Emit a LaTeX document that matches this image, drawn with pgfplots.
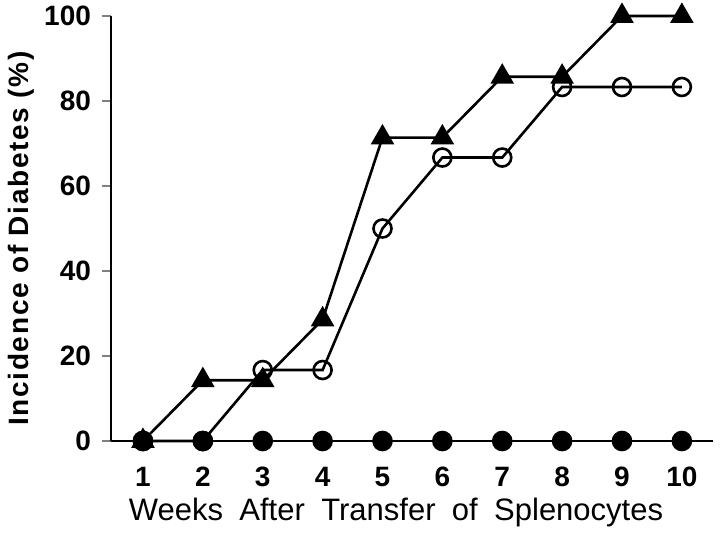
\documentclass[border=0pt]{standalone}
\usepackage{fontspec}
\setmainfont{Liberation Sans}
\newfontfamily\ylabfont[LetterSpace=6]{Liberation Sans}
\usepackage{pgfplots}
\pgfplotsset{compat=1.18}
\begin{document}
\begin{tikzpicture}
\begin{axis}[
  scale only axis,
  width=301pt, height=212.5pt,
  xmin=0.466, xmax=10.52, ymin=0, ymax=100,
  axis x line=bottom, axis y line=left,
  axis line style={-, line width=1.2pt},
  xtick={1,...,10}, ytick={0,20,...,100},
  major x tick style={draw=none},
  major y tick style={line width=1.2pt},
  tick align=outside, major tick length=4.5pt,
  tick label style={font=\fontsize{14}{16}\selectfont\bfseries},
  /pgf/number format/assume math mode=true,
  xticklabel style={yshift=-5pt},
  yticklabel style={xshift=-2pt},
  xlabel={\spaceskip=8.2pt\relax Weeks After Transfer of Splenocytes},
  xlabel style={font=\fontsize{15.5}{17}\selectfont, yshift=1.5pt, xshift=-8pt},
  ylabel={Incidence of Diabetes (\%)},
  ylabel style={font=\fontsize{14}{16}\selectfont\ylabfont\bfseries, yshift=-2pt, xshift=-5pt},
  clip=false,
  every axis plot/.append style={line width=1.3pt, black},
]
\addplot[mark=o, mark size=4.5pt, mark options={fill=white, line width=1.3pt}] coordinates {
  (1,0) (2,0) (3,16.7) (4,16.7) (5,50) (6,66.7) (7,66.7) (8,83.3) (9,83.3) (10,83.3)
};
\addplot[mark=triangle*, mark size=5.5pt, mark options={fill=black}] coordinates {
  (1,0) (2,14.3) (3,14.3) (4,28.6) (5,71.4) (6,71.4) (7,85.7) (8,85.7) (9,100) (10,100)
};
\addplot[mark=*, mark size=4.5pt, mark options={fill=black}] coordinates {
  (1,0) (2,0) (3,0) (4,0) (5,0) (6,0) (7,0) (8,0) (9,0) (10,0)
};
\addplot[draw=black, line width=1.3pt, mark=none] coordinates {(10,0) (10.52,0)};
\coordinate (bl) at (rel axis cs:0,0);
\coordinate (tr) at (rel axis cs:1,1);
\end{axis}
\pgfresetboundingbox
\path ([xshift=-55.5pt,yshift=-45.5pt]bl) rectangle ([xshift=3.5pt,yshift=8pt]tr);
\end{tikzpicture}
\end{document}
